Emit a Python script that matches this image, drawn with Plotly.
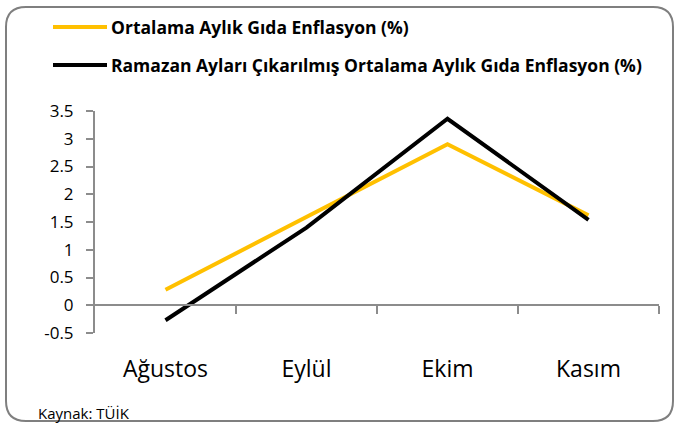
import plotly.graph_objects as go

categories = ["Ağustos", "Eylül", "Ekim", "Kasım"]
ortalama = [0.28, 1.58, 2.90, 1.62]
ramazan_haric = [-0.27, 1.40, 3.36, 1.54]
y_ticks = [-0.5, 0, 0.5, 1, 1.5, 2, 2.5, 3, 3.5]
y_ticklabels = ["-0.5", "0", "0.5", "1", "1.5", "2", "2.5", "3", "3.5"]
name1 = "Ortalama Aylık Gıda Enflasyon (%)"
name2 = "Ramazan Ayları Çıkarılmış Ortalama Aylık Gıda Enflasyon (%)"
source = "Kaynak: TÜİK"
colors = ["#FFC000", "#000000"]

FONT = "Open Sans"
x_idx = list(range(len(categories)))

W, H = 679, 423
ML, MR, MT, MB = 95, 20, 111, 90

def cx(x): return (x - ML) / (W - ML - MR)
def cy(y): return 1 - (y - MT) / (H - MT - MB)

fig = go.Figure()
fig.add_trace(go.Scatter(x=x_idx, y=ortalama, mode="lines", name=name1,
                         line=dict(color=colors[0], width=4), showlegend=False))
fig.add_trace(go.Scatter(x=x_idx, y=ramazan_haric, mode="lines", name=name2,
                         line=dict(color=colors[1], width=4), showlegend=False))
# invisible trace to activate the zero-line category axis
fig.add_trace(go.Scatter(x=[0], y=[0], xaxis="x2", mode="markers",
                         marker=dict(opacity=0), showlegend=False, hoverinfo="skip"))

fig.update_layout(
    width=W, height=H,
    margin=dict(l=ML, r=MR, t=MT, b=MB, autoexpand=False),
    paper_bgcolor="white", plot_bgcolor="white",
    font=dict(family=FONT, color="black"),
    showlegend=False,
    xaxis=dict(range=[-0.5, 3.5], tickvals=x_idx, ticktext=categories,
               showline=False, showgrid=False, zeroline=False, ticks="",
               tickfont=dict(family=FONT, size=23), ticklabelstandoff=20),
    xaxis2=dict(range=[-0.5, 3.5], overlaying="x", anchor="free", position=0.125,
                side="bottom", tickvals=[0.5, 1.5, 2.5, 3.5], ticktext=["", "", "", ""],
                showline=True, linecolor="#8c8c8c", linewidth=2, ticks="outside",
                ticklen=8, tickwidth=2, tickcolor="#8c8c8c", showgrid=False, zeroline=False,
                matches="x"),
    yaxis=dict(range=[-0.5, 3.5], tickvals=y_ticks, ticktext=y_ticklabels,
               showline=True, linecolor="#8c8c8c", linewidth=2, ticks="outside",
               ticklen=7, tickwidth=2, tickcolor="#8c8c8c", showgrid=False, zeroline=False,
               tickfont=dict(family=FONT, size=17), ticklabelstandoff=9),
)

# rounded border
r = 20
x0, y0, x1, y1 = 6, 7, 673, 421
path = (f"M {cx(x0+r)},{cy(y0)} L {cx(x1-r)},{cy(y0)} Q {cx(x1)},{cy(y0)} {cx(x1)},{cy(y0+r)} "
        f"L {cx(x1)},{cy(y1-r)} Q {cx(x1)},{cy(y1)} {cx(x1-r)},{cy(y1)} L {cx(x0+r)},{cy(y1)} "
        f"Q {cx(x0)},{cy(y1)} {cx(x0)},{cy(y1-r)} L {cx(x0)},{cy(y0+r)} Q {cx(x0)},{cy(y0)} {cx(x0+r)},{cy(y0)} Z")
fig.add_shape(type="path", xref="paper", yref="paper", path=path,
              line=dict(color="#7f7f7f", width=2), layer="below")

# manual legend
for i, (nm, col) in enumerate(zip([name1, name2], colors)):
    yy = 27 + i * 38
    fig.add_shape(type="line", xref="paper", yref="paper",
                  x0=cx(53), x1=cx(107), y0=cy(yy), y1=cy(yy),
                  line=dict(color=col, width=4))
    fig.add_annotation(text=nm, xref="paper", yref="paper",
                       x=cx(109), y=cy(yy), xanchor="left", yanchor="middle",
                       showarrow=False,
                       font=dict(family=FONT, size=17.5, color="black", weight="bold"))

fig.add_annotation(text=source, xref="paper", yref="paper",
                   x=cx(36), y=cy(413), xanchor="left", yanchor="middle",
                   showarrow=False, font=dict(family=FONT, size=15, color="black"))

fig.write_html("out.html", config={"displayModeBar": False},
               post_script="document.body.style.margin='0';document.body.style.overflow='hidden';")
